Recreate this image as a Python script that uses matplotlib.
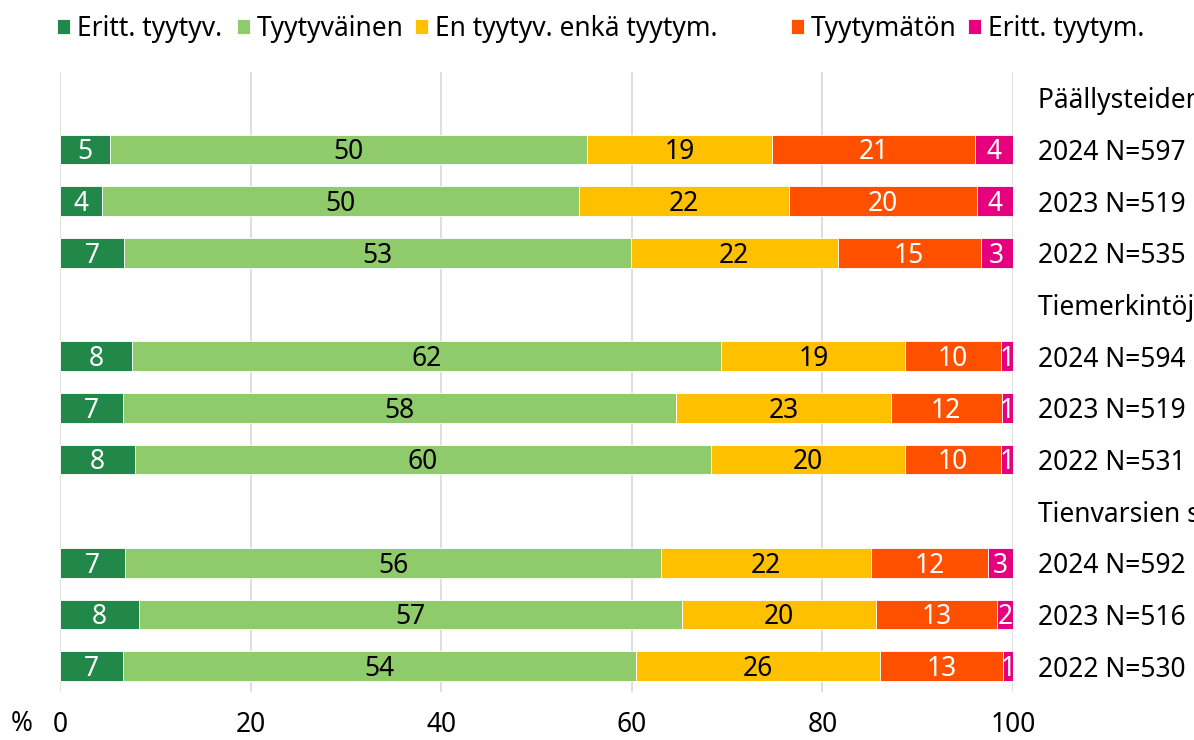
import matplotlib.pyplot as plt
import numpy as np

plt.rcParams['font.family'] = ['Noto Sans', 'DejaVu Sans']

# Answer categories and their colours
categories = ['Eritt. tyytyv.', 'Tyytyväinen', 'En tyytyv. enkä tyytym.', 'Tyytymätön', 'Eritt. tyytym.']
colors = ['#21884A', '#8FCB6B', '#FFC000', '#FF5000', '#E6007E']
label_colors = ['white', 'black', 'black', 'white', 'white']

# Right-hand row labels (group headers have no bar)
row_labels = ['Päällysteiden kunto', '2024 N=597', '2023 N=519', '2022 N=535',
              'Tiemerkintöjen kunto', '2024 N=594', '2023 N=519', '2022 N=531',
              'Tienvarsien siisteys', '2024 N=592', '2023 N=516', '2022 N=530']
bar_rows = [1, 2, 3, 5, 6, 7, 9, 10, 11]

# Shares (%) per bar, top to bottom
very_satisfied = [5.2, 4.4, 6.7, 7.6, 6.6, 7.9, 6.8, 8.3, 6.6]
satisfied = [50.1, 50.1, 53.2, 61.8, 58.0, 60.4, 56.3, 57.0, 53.8]
neutral = [19.4, 22.0, 21.7, 19.3, 22.6, 20.4, 22.0, 20.3, 25.6]
dissatisfied = [21.3, 19.7, 15.0, 10.0, 11.6, 10.0, 12.3, 12.7, 13.0]
very_dissatisfied = [4.0, 3.8, 3.4, 1.3, 1.2, 1.3, 2.6, 1.7, 1.0]

series = [very_satisfied, satisfied, neutral, dissatisfied, very_dissatisfied]

# left edge (px) of each legend entry, as in the original
legend_x = [57, 237, 415, 791, 968]

fig = plt.figure(figsize=(11.94, 7.40), dpi=100)
ax = fig.add_axes([60/1194, 1 - 692/740, 953/1194, 620/740])

left = np.zeros(len(bar_rows))
handles = []
for vals, name, col, tcol in zip(series, categories, colors, label_colors):
    vals = np.array(vals)
    bars = ax.barh(bar_rows, vals, left=left, height=0.58, color=col,
                   edgecolor='white', linewidth=0.6, label=name)
    txts = ax.bar_label(bars, labels=[str(int(round(v))) for v in vals],
                        label_type='center', color=tcol, fontsize=19)
    # digits sit a bit high in Noto, push them down (offset in points)
    for t in txts:
        ox, oy = t.xyann
        t.xyann = (ox, oy - 2)
    handles.append(bars)
    left += vals

ax.set_xlim(0, 100)
ax.set_ylim(11.5, -0.5)
ax.set_xticks(range(0, 101, 20))
ax.set_axisbelow(True)
ax.xaxis.grid(True, color='#D9D9D9', linewidth=1.2)
ax.tick_params(axis='x', length=0, pad=14, labelsize=19)

ax.set_yticks(range(len(row_labels)))
ax.set_yticklabels(row_labels)
ax.yaxis.tick_right()
ax.tick_params(axis='y', length=0, pad=18, labelsize=19)

for s in ax.spines.values():
    s.set_visible(False)

fig.text(22/1194, 1 - 724/740, '%', ha='center', va='center', fontsize=19)

# one legend per entry so the spacing follows the original
for h, name, x in zip(handles, categories, legend_x):
    fig.legend([h], [name], loc='upper left', bbox_to_anchor=(x/1194, 1 - 15/740),
               frameon=False, fontsize=19, handlelength=0.5, handleheight=0.5,
               handletextpad=0.25, borderaxespad=0, borderpad=0)

plt.savefig('out.png', dpi=100)
